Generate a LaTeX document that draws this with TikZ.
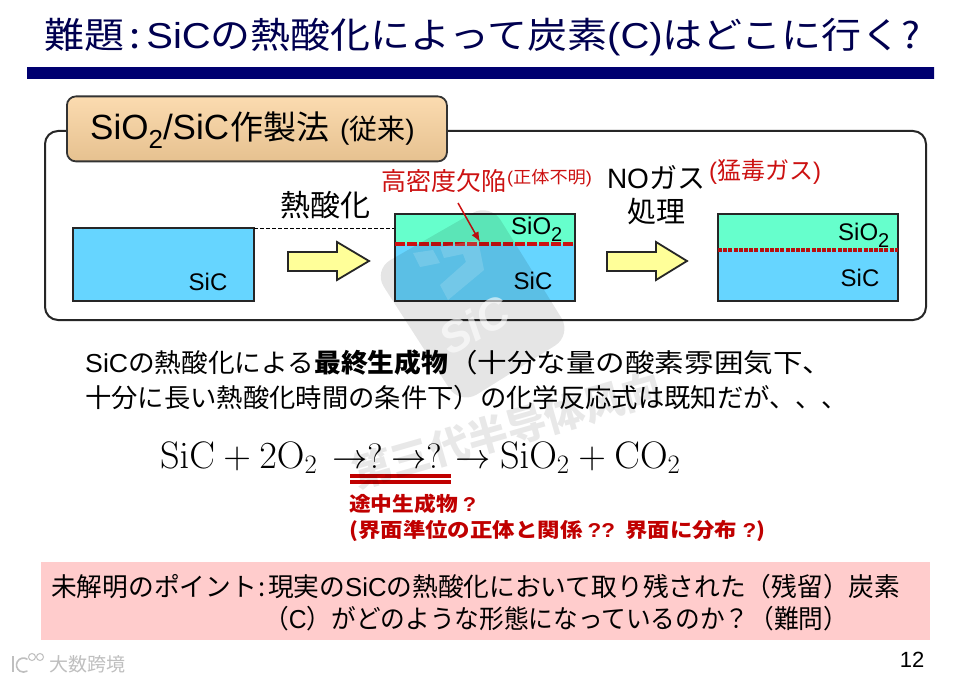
\documentclass[tikz,border=0pt]{standalone}
\usepackage{graphicx}
\usepackage[no-math]{fontspec}
\usetikzlibrary{arrows.meta}
\setmainfont{Noto Sans CJK JP}
\newfontfamily\latfont{Liberation Sans}
\newfontfamily\wmfont{Noto Sans CJK SC}
\newcommand{\lat}[1]{{\latfont #1}}
\newcommand{\fs}[1]{\fontsize{#1}{#1}\selectfont}
\newcommand{\fitw}[2]{\resizebox{#1pt}{\height}{#2}}
\newcommand{\subtwo}[2]{\raisebox{-#2pt}{\fs{#1}\latfont 2}}
\newcommand{\eqbig}[1]{\scalebox{1.54}{#1}}
\newcommand{\eqarr}[1]{\scalebox{1.417}{#1}}
\definecolor{navydark}{HTML}{000070}
\definecolor{navymid}{HTML}{0000B0}
\definecolor{titlenavy}{HTML}{000050}
\definecolor{sicblue}{HTML}{66D5FF}
\definecolor{oxgreen}{HTML}{66FFCC}
\definecolor{tabtan}{HTML}{FAD29C}
\definecolor{defred}{HTML}{CC1111}
\definecolor{notered}{HTML}{C00000}
\definecolor{arrowyel}{HTML}{FFFF99}
\definecolor{pinkbox}{HTML}{FFCCCC}
\tikzset{
  x=1pt,y=-1pt,
  layerbox/.style={draw=black!85,line width=2pt},
  blockarrow/.style={draw=black!85,line width=1.8pt,fill=arrowyel,line join=miter},
  label/.style={inner sep=0pt,anchor=center,text=black},
  redlab/.style={inner sep=0pt,anchor=center,text=defred},
  leftlab/.style={inner sep=0pt,anchor=west,text=black},
  eqlab/.style={inner sep=0pt,anchor=base west,text=black,font=\fs{24}},
  notelab/.style={inner sep=0pt,anchor=west,text=notered,font=\fs{20}\bfseries},
}
\begin{document}
\begin{tikzpicture}
\path[use as bounding box,fill=white] (0,0) rectangle (964,682);
% title
\node[leftlab,text=titlenavy,font=\fs{36}] (title) at (44,37) {\fitw{876}{難題\hspace{5pt}:\hspace{5pt}\lat{SiC}の熱酸化によって炭素\lat{(C)}はどこに行く?}};
\path[left color=navydark,middle color=navymid,right color=navydark] (27,68) rectangle (934,79);
% panel
\draw[black!85,line width=2pt,rounded corners=13pt,fill=white] (45,131) rectangle (926,320);
% tab
\node[draw=black!80,line width=1.8pt,top color=tabtan!80!white,bottom color=tabtan!92!black,rounded corners=9pt,minimum width=380pt,minimum height=65pt,anchor=north west,inner sep=0pt] (tab) at (66,95.5) {};
\node[leftlab] (tabtext) at (90,130) {\fs{35}\lat{SiO\subtwo{26}{9}/SiC}\hspace{1pt}\fs{33}作製法\hspace{11pt}\fs{28}\lat{(}従来\lat{)}};
% layers
\draw[layerbox,fill=sicblue] (73,228) rectangle (254,301);
\coordinate (boxone) at (254,228);
\coordinate (boxtwo) at (395,228);
\draw[black,line width=0.7pt,dash pattern=on 4pt off 2pt] (boxone) -- (boxtwo);
\draw[layerbox,fill=sicblue] (395,214) rectangle (575,301);
\path[fill=oxgreen] (396,215) rectangle (574,244);
\draw[layerbox] (395,214) rectangle (575,301);
\draw[layerbox,fill=sicblue] (718,214) rectangle (898,301);
\path[fill=oxgreen] (719,215) rectangle (897,250);
\draw[layerbox] (718,214) rectangle (898,301);
% defect lines
\coordinate (da) at (395,244); \coordinate (db) at (575,244);
\coordinate (dc) at (718,250); \coordinate (dd) at (898,250);
\draw[defred,line width=4.5pt,dash pattern=on 10pt off 2pt] (da) -- (db);
\draw[defred!90!black,line width=4pt,dash pattern=on 4pt off 1.2pt] (dc) -- (dd);
% block arrows
\draw[blockarrow] (288,252) -- (337,252) -- (337,242) -- (369,261) -- (337,280) -- (337,271) -- (288,271) -- cycle;
\draw[blockarrow] (607,252) -- (656,252) -- (656,242) -- (687,261) -- (656,280) -- (656,271) -- (607,271) -- cycle;
% labels in panel
\node[label,font=\fs{24}\latfont] (sica) at (208,282) {SiC};
\node[label,font=\fs{24}\latfont] (sicb) at (533,281) {SiC};
\node[inner sep=0pt,anchor=base west,font=\fs{24}\latfont] (sioa) at (511,234) {SiO\subtwo{20}{7}};
\node[label,font=\fs{24}\latfont] (sicc) at (860,278) {SiC};
\node[inner sep=0pt,anchor=base west,font=\fs{24}\latfont] (siob) at (838,240) {SiO\subtwo{20}{7}};
\node[label,font=\fs{30}] (ox) at (325,205) {熱酸化};
\node[redlab,font=\fs{25}] (defect) at (444,181) {高密度欠陥};
\node[redlab,font=\fs{17}] (unknown) at (549.5,178) {\fitw{85}{\lat{(}正体不明\lat{)}}};
\coordinate (defstart) at (458,203);
\coordinate (defecttarget) at (480,242);
\draw[defred,line width=1.5pt,-{Latex[length=10pt,width=8pt]}] (defstart) -- (defecttarget);
\node[label,font=\fs{28}] (nogas) at (656,177) {\lat{NO}ガス};
\node[redlab,font=\fs{24}] (toxic) at (765,172) {\lat{(}猛毒ガス\lat{)}};
\node[label,font=\fs{29}] (treat) at (656,212) {処理};
% body text
\node[leftlab,font=\fs{26}] (line1) at (85,363) {\fitw{229}{\lat{SiC}の熱酸化による}\fitw{134}{\textbf{最終生成物}}\fitw{384}{（十分な量の酸素雰囲気下、}};
\node[leftlab,font=\fs{26}] (line2) at (85,398) {\fitw{763}{十分に長い熱酸化時間の条件下）の化学反応式は既知だが、、、}};
% equation
\node[eqlab] (eqa) at (160,468) {\eqbig{$\mathrm{SiC}+2\mathrm{O}_2$}};
\node[eqlab] (eqb) at (332,468) {\eqarr{${\to}\mathrm{?}$}};
\node[eqlab] (eqc) at (391,468) {\eqarr{${\to}\mathrm{?}$}};
\node[eqlab] (eqd) at (455,468) {\eqarr{$\to$}};
\node[eqlab] (eqe) at (500,468) {\eqbig{$\mathrm{SiO}_2+\mathrm{CO}_2$}};
\path[fill=notered] (350,474) rectangle (451,477.5);
\path[fill=notered] (350,480) rectangle (451,484);
\node[notelab] (notea) at (349,504) {\fitw{127}{途中生成物 \lat{?}}};
\node[notelab] (noteb) at (349,531) {\fitw{416}{(界面準位の正体と関係 \lat{??}\ \ 界面に分布 \lat{?})}};
% pink
\path[fill=pinkbox] (41,562) rectangle (930,640);
\node[leftlab,font=\fs{26}] (pinka) at (51,587) {\fitw{849}{未解明のポイント\hspace{2pt}:\hspace{2pt}現実の\lat{SiC}の熱酸化において取り残された（残留）炭素}};
\node[leftlab,font=\fs{26}] (pinkb) at (264,619) {\fitw{584}{（\lat{C}）がどのような形態になっているのか？（難問）}};
\node[label,font=\fs{22}\latfont] (page) at (912,660) {12};
% watermark
\fill[black,opacity=0.10,rounded corners=20pt] (490,203) -- (572,335) -- (460,405) -- (373,270) -- cycle;
\fill[white,opacity=0.15] (413,253) -- (433,250) -- (440,263) -- (420,267) -- cycle;
\fill[white,opacity=0.15] (440,247) -- (478,240) -- (484,270) -- (448,300) -- (440,285) -- (466,262) -- (463,254) -- (444,258) -- cycle;
\node[inner sep=0pt,text=white,opacity=0.6,rotate=30,font=\fs{44}\latfont\bfseries\itshape] (wmsic) at (474,325) {SiC};
\node[inner sep=0pt,text=black,opacity=0.09,rotate=16,font=\fs{40}\wmfont\bfseries] (wmtext) at (507,430) {第三代半导体风向};
\node[inner sep=0pt,text=black!25,font=\fs{19}] (brand) at (87,664) {大数跨境};
\draw[black!25,line width=1.6pt] (13,656) -- (13,672);
\draw[black!25,line width=1.6pt,line cap=round] (27,659) arc[start angle=60,end angle=300,radius=7pt];
\draw[black!25,line width=1pt] (32,657) circle[radius=3.5pt] (40,657) circle[radius=3.5pt];
\end{tikzpicture}
\end{document}
